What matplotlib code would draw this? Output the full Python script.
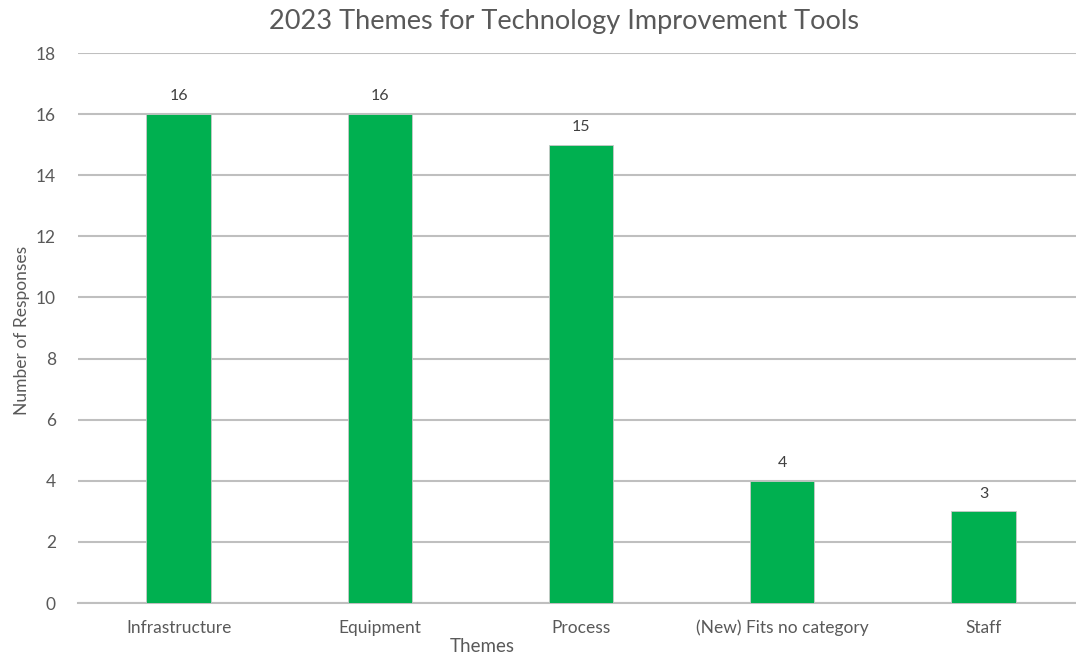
import matplotlib
import matplotlib.pyplot as plt

matplotlib.use('Agg')

themes = ["Infrastructure", "Equipment", "Process", "(New) Fits no category", "Staff"]
responses = [16, 16, 15, 4, 3]
yticks = [0, 2, 4, 6, 8, 10, 12, 14, 16, 18]

plt.rcParams['font.family'] = ['Lato', 'DejaVu Sans']

fig = plt.figure(figsize=(10.76, 6.58), dpi=100)
ax = fig.add_axes([78 / 1076, 55 / 658, 1 - 78 / 1076, 550 / 658])

x = list(range(len(themes)))
bars = ax.bar(x, responses, width=0.32, color="#00b050", edgecolor="#c8c8c8", linewidth=0.6, zorder=3)
for rect, val in zip(bars, responses):
    ax.text(rect.get_x() + rect.get_width() / 2, val + 0.35, str(val),
            ha="center", va="bottom", fontsize=11.5, color="#404040")

ax.set_xlim(-0.5, 4.46)
ax.set_ylim(0, 18)
ax.set_yticks(yticks)
ax.set_xticks(x)
ax.set_xticklabels(themes)
ax.yaxis.grid(True, color="#bfbfbf", linewidth=1.5, zorder=0)
ax.set_axisbelow(True)
for s in ["top", "right", "left"]:
    ax.spines[s].set_visible(False)
ax.spines["bottom"].set_color("#bfbfbf")
ax.spines["bottom"].set_linewidth(1.5)
ax.tick_params(axis="both", length=0, labelsize=12.5, labelcolor="#595959")
ax.tick_params(axis="x", pad=12)
ax.tick_params(axis="y", pad=16)

fig.text(564 / 1076, 1 - 22 / 658, "2023 Themes for Technology Improvement Tools",
         ha="center", va="center", fontsize=19.5, color="#595959")
fig.text(482 / 1076, 1 - 647 / 658, "Themes", ha="center", va="center", fontsize=13.5, color="#595959")
fig.text(22 / 1076, 1 - 330 / 658, "Number of Responses", ha="center", va="center",
         rotation=90, fontsize=12.5, color="#595959")

plt.savefig("out.png", dpi=100)
